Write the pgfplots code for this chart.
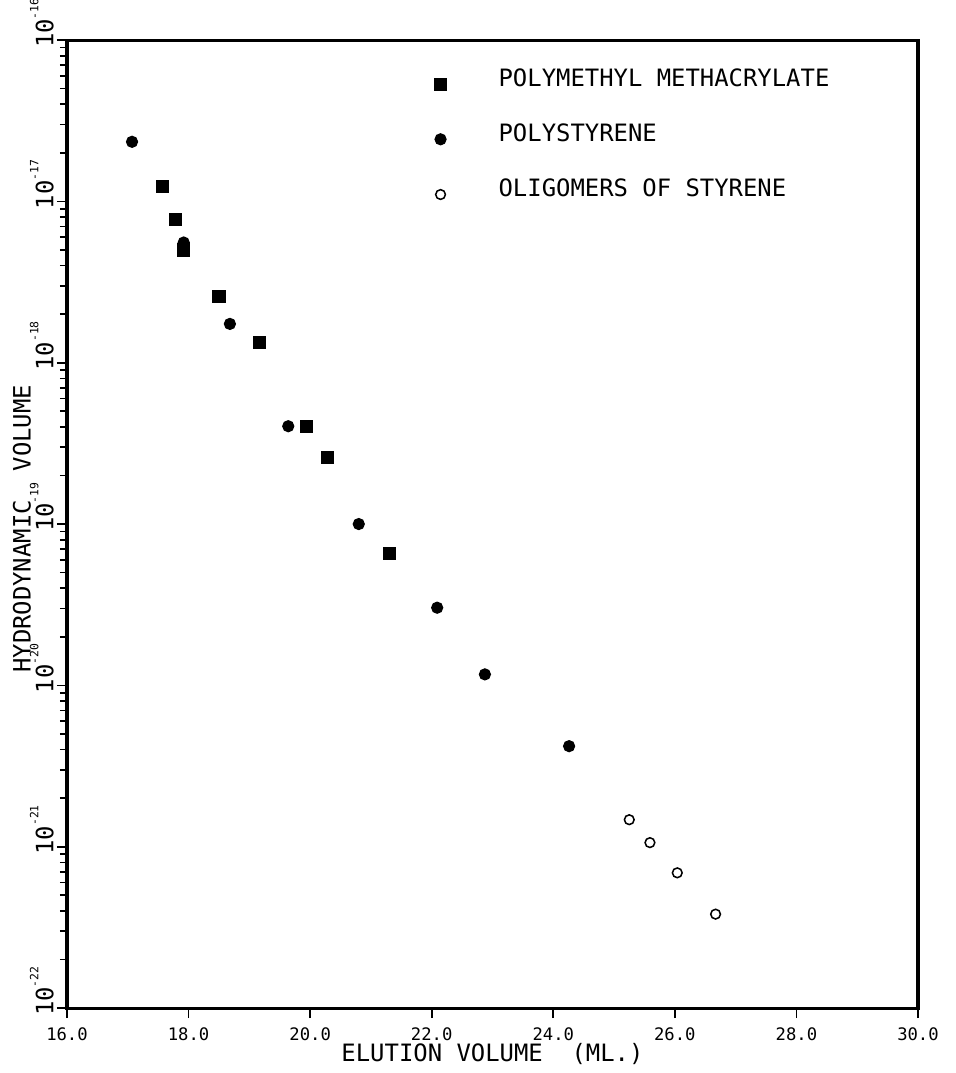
\documentclass[border=0pt]{standalone}
\usepackage{pgfplots}
\pgfplotsset{compat=1.18}
\usepackage{fontspec}
\setmainfont{DejaVu Sans Mono}

% 1 px of the reference = 0.36pt
\newcommand{\ylab}[1]{\hspace*{-4pt}10\raisebox{1.15ex}{\fontsize{4.1}{5}\selectfont -#1}}

\begin{document}
\begin{tikzpicture}
\useasboundingbox (-24.12pt,-23.4pt) rectangle (320.04pt,362.88pt);
\begin{axis}[
    at={(0pt,0pt)}, anchor=south west,
    scale only axis,
    width=306.36pt, height=348.48pt,
    xmin=16, xmax=30,
    ymode=log, ymin=1e-22, ymax=1e-16,
    axis line style={line width=1.1pt},
    every tick/.style={black, line width=0.6pt},
    tick align=outside, tick pos=left,
    major tick length=3.6pt, minor tick length=2.6pt,
    xtick={16,18,...,30},
    xticklabel style={font=\fontsize{6.2}{7}\selectfont,
        /pgf/number format/.cd, fixed, fixed zerofill, precision=1, assume math mode=true},
    ytick={1e-22,1e-21,1e-20,1e-19,1e-18,1e-17,1e-16},
    yticklabels={\ylab{22},\ylab{21},\ylab{20},\ylab{19},\ylab{18},\ylab{17},\ylab{16}},
    yticklabel style={font=\fontsize{8.6}{9}\selectfont, rotate=90, anchor=south west, inner sep=1pt},
    xlabel={ELUTION VOLUME\ \ (ML.)},
    ylabel={HYDRODYNAMIC\ \ VOLUME},
    label style={font=\fontsize{8.6}{10}\selectfont},
    xlabel style={at={(axis description cs:0.5,-0.0475)}, anchor=center},
    ylabel style={at={(axis description cs:-0.053,0.495)}, anchor=center},
    clip=false,
    legend style={at={(axis description cs:0.422,0.971)}, anchor=north west,
        draw=none, fill=none, inner sep=0pt, row sep=12pt,
        nodes={inner sep=0pt},
        font=\fontsize{8.6}{10}\selectfont,
        /tikz/every odd column/.append style={column sep=15.9pt}},
    legend cell align=left,
    legend image code/.code={\path[draw=none, fill=none] (-5pt,-3pt) rectangle (5pt,3pt);
        \draw[#1] plot coordinates {(0pt,-1.6pt)};},
]
% polymethyl methacrylate
\addplot[only marks, mark=square*, mark size=2.16pt, black] coordinates {
    (17.57,1.23e-17) (17.79,7.7e-18) (17.92,5.0e-18) (18.50,2.58e-18)
    (19.16,1.33e-18) (19.94,4.04e-19) (20.28,2.6e-19) (21.30,6.56e-20)};
\addlegendentry{POLYMETHYL METHACRYLATE}
% polystyrene
\addplot[only marks, mark=*, mark size=2.0pt, black] coordinates {
    (17.07,2.34e-17) (17.92,5.56e-18) (18.68,1.74e-18) (19.64,4.04e-19)
    (20.80,1.0e-19) (22.09,3.03e-20) (22.875,1.17e-20) (24.26,4.2e-21)};
\addlegendentry{POLYSTYRENE}
% oligomers
\addplot[only marks, mark=o, mark size=1.75pt, black, mark options={line width=0.55pt}] coordinates {
    (25.25,1.47e-21) (25.59,1.06e-21) (26.04,6.89e-22) (26.67,3.82e-22)};
\addlegendentry{OLIGOMERS OF STYRENE}
\end{axis}
\end{tikzpicture}
\end{document}
